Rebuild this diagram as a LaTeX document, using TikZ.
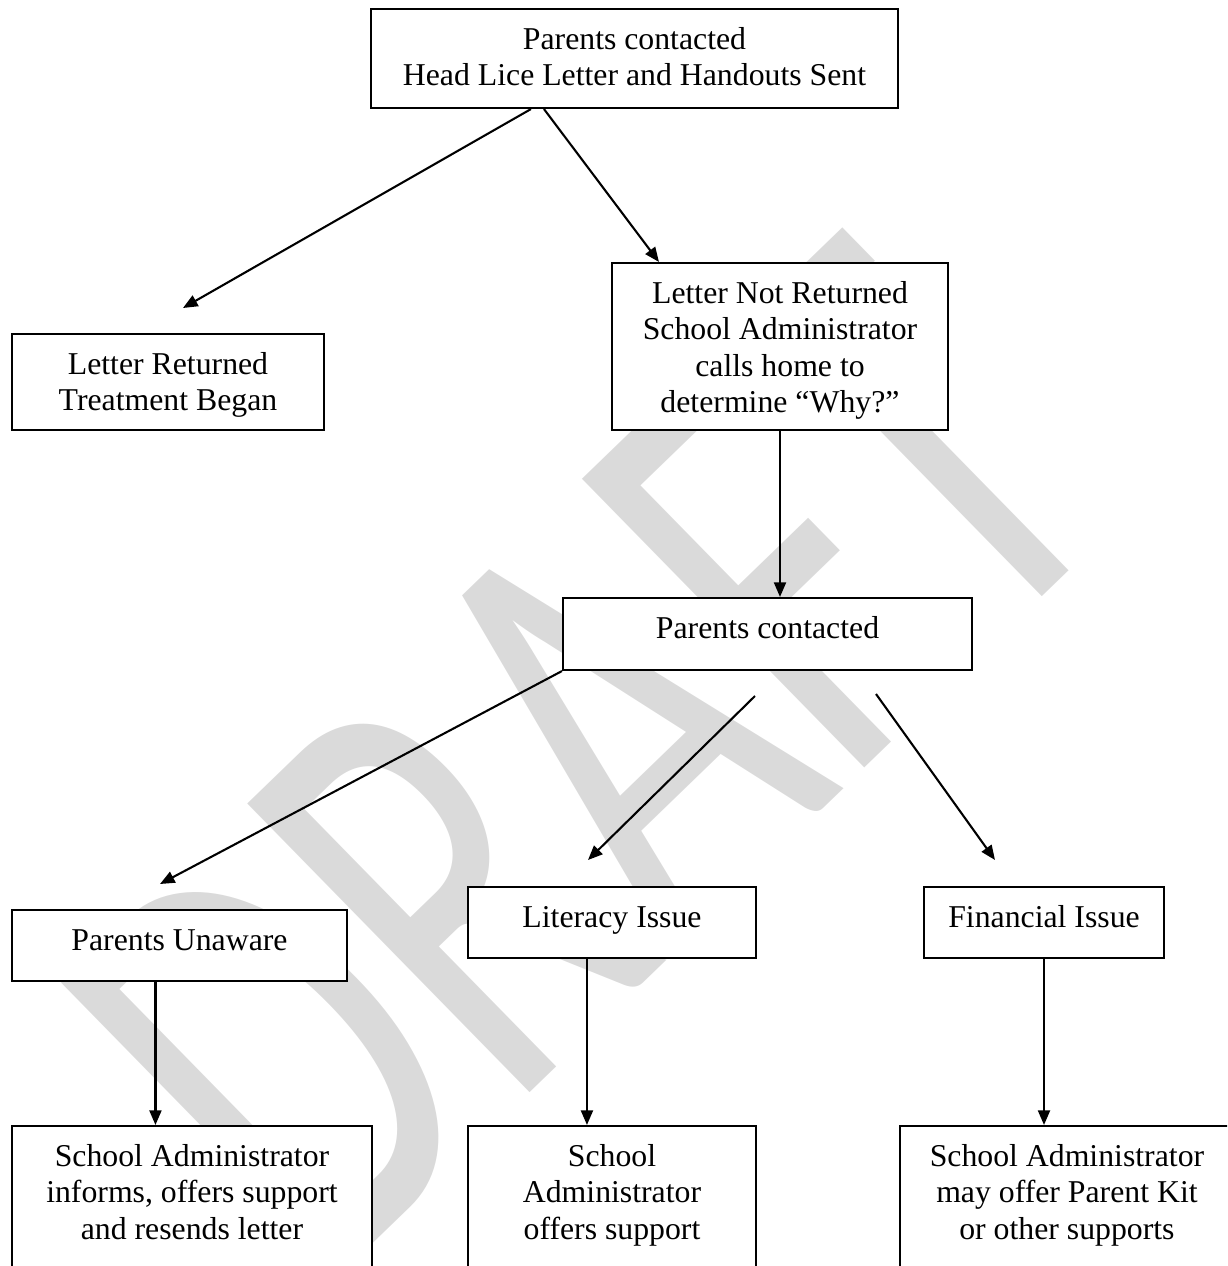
\documentclass[tikz,border=0pt]{standalone}
\usepackage{fontspec}
\setmainfont{Liberation Serif}
\newfontfamily\wmfont{Carlito}
\usetikzlibrary{arrows.meta,calc,fit}
\definecolor{wmgray}{RGB}{218,218,218}
\newcommand\tstrut{\rule{0pt}{15.6pt}}
\begin{document}
\begin{tikzpicture}[x=0.384pt,y=-0.384pt,
  box/.style={draw=black, line width=0.8pt, fill=white, inner sep=0pt},
  txt/.style={anchor=north, inner sep=0pt, align=center, font=\fontsize{12.2pt}{14pt}\selectfont},
  arr/.style={line width=0.8pt, -{Triangle[length=5.6pt,width=4.6pt]}}]
\useasboundingbox (0,0) rectangle (1227,1266);
\begin{scope}
\clip (0,0) rectangle (1227,1266);
% watermark
\begin{scope}[cm={1.152,1.114,-1.690,1.728,(323,1292)}]
\node[transform shape, anchor=base west, inner sep=0pt, text=wmgray,
      font=\wmfont\fontsize{100pt}{100pt}\selectfont] (wm) at (0,0) {DRAFT};
\end{scope}
% boxes
\node[box, fit={(371,9)(898,108)}] (top) {};
\node[box, fit={(12,334)(324,430)}] (lr) {};
\node[box, fit={(612,263)(948,430)}] (lnr) {};
\node[box, fit={(563,598)(972,670)}] (pc) {};
\node[box, fit={(12,910)(347,981)}] (pu) {};
\node[box, fit={(468,887)(756,958)}] (li) {};
\node[box, fit={(924,887)(1164,958)}] (fi) {};
\node[box, fit={(12,1126)(372,1300)}] (sa1) {};
\node[box, fit={(468,1126)(756,1300)}] (sa2) {};
\node[box, fit={(900,1126)(1240,1300)}] (sa3) {};
% texts
\node[txt] (ttop) at (top.north) {\tstrut Parents contacted\\Head Lice Letter and Handouts Sent};
\node[txt] (tlr) at (lr.north) {\tstrut Letter Returned\\Treatment Began};
\node[txt] (tlnr) at (lnr.north) {\tstrut Letter Not Returned\\School Administrator\\calls home to\\determine “Why?”};
\node[txt] (tpc) at (pc.north) {\tstrut Parents contacted};
\node[txt] (tpu) at (pu.north) {\tstrut Parents Unaware};
\node[txt] (tli) at (li.north) {\tstrut Literacy Issue};
\node[txt] (tfi) at (fi.north) {\tstrut Financial Issue};
\node[txt] (tsa1) at (sa1.north) {\tstrut School Administrator\\informs, offers support\\and resends letter};
\node[txt] (tsa2) at (sa2.north) {\tstrut School\\Administrator\\offers support};
\node[txt] (tsa3) at ($(sa3.north west)+(168,0)$) {\tstrut School Administrator\\may offer Parent Kit\\or other supports};
% free arrow ends
\coordinate (e1) at (183,308);
\coordinate (e2) at (160,884);
\coordinate (s3) at (755,696);
\coordinate (e3) at (588,860);
\coordinate (s4) at (876,694);
\coordinate (e4) at (995,860);
% arrows
\draw[arr] ($(top.south west)+(161,0)$) -- (e1);
\draw[arr] ($(top.south west)+(174,0)$) -- ($(lnr.north west)+(48,0)$);
\draw[arr] (lnr.south) -- (lnr.south |- pc.north);
\draw[arr] (pc.south west) -- (e2);
\draw[arr] (s3) -- (e3);
\draw[arr] (s4) -- (e4);
\draw[arr] ($(pu.south west)+(144.5,0)$) -- ($(sa1.north west)+(144.5,0)$);
\draw[arr] ($(li.south west)+(120,0)$) -- ($(sa2.north west)+(120,0)$);
\draw[arr] (fi.south) -- (fi.south |- sa3.north);
\end{scope}
\end{tikzpicture}
\end{document}
